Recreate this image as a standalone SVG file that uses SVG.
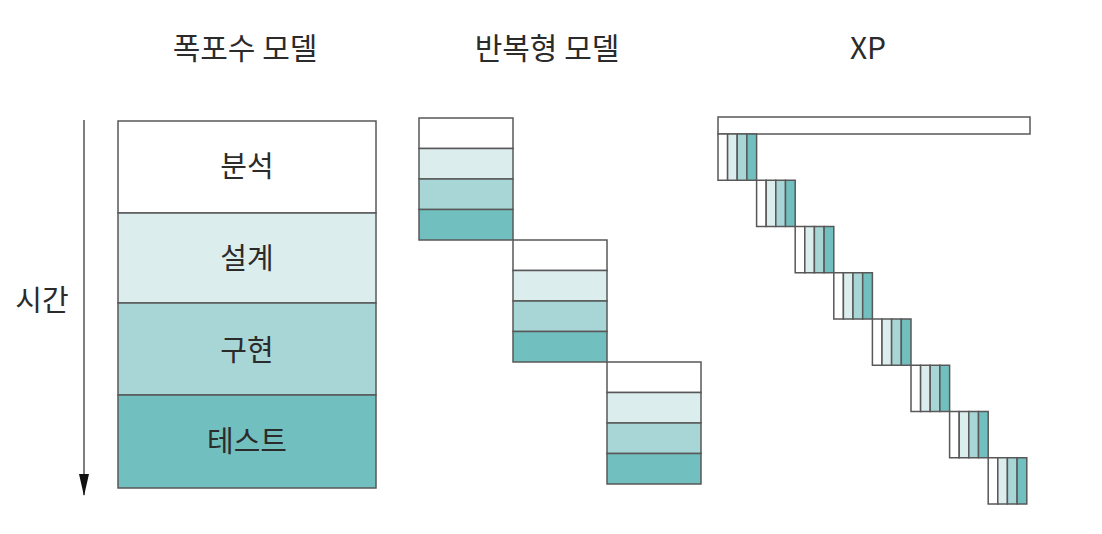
<svg xmlns="http://www.w3.org/2000/svg" width="1102" height="534" viewBox="0 0 1102 534">
<style>
  .b{stroke:#585858;stroke-width:1.5}
  .w{fill:#ffffff}
  .l{fill:#dcedee}
  .m{fill:#a8d5d6}
  .d{fill:#72bfc0}
  .t{font-family:"Noto Sans CJK KR","Noto Sans",sans-serif;fill:#2b2b2b;text-anchor:middle}
  .h{font-size:30px;font-weight:400}
  .s{font-size:29px;font-weight:400}
</style>
<defs>
  <marker id="ah" markerWidth="22" markerHeight="10" refX="21" refY="5" orient="auto" markerUnits="userSpaceOnUse">
    <path d="M0,0 L22,5 L0,10 Z" fill="#111"/>
  </marker>
  <g id="xpb">
    <rect class="b w" x="0" y="0" width="9.6" height="46.25"/>
    <rect class="b l" x="9.6" y="0" width="9.6" height="46.25"/>
    <rect class="b m" x="19.2" y="0" width="9.7" height="46.25"/>
    <rect class="b d" x="28.9" y="0" width="9.7" height="46.25"/>
  </g>
  <g id="itb">
    <rect class="b w" x="0" y="0" width="94" height="30.5"/>
    <rect class="b l" x="0" y="30.5" width="94" height="30.5"/>
    <rect class="b m" x="0" y="61" width="94" height="30.5"/>
    <rect class="b d" x="0" y="91.5" width="94" height="30.5"/>
  </g>
</defs>

<g id="titles">
  <text class="t h" x="245" y="59">폭포수 모델</text>
  <text class="t h" x="547" y="59">반복형 모델</text>
  <text class="t h" x="868" y="59">XP</text>
</g>

<g id="connectors">
  <line x1="84" y1="120" x2="84" y2="495" stroke="#555" stroke-width="1.5" marker-end="url(#ah)"/>
</g>
<g id="time-label">
  <text class="t s" x="42" y="311">시간</text>
</g>

<g id="waterfall">
  <g id="wf-analysis">
    <rect class="b w" x="118" y="121" width="258" height="92"/>
    <text class="t s" x="247" y="177">분석</text>
  </g>
  <g id="wf-design">
    <rect class="b l" x="118" y="213" width="258" height="90"/>
    <text class="t s" x="247" y="269">설계</text>
  </g>
  <g id="wf-impl">
    <rect class="b m" x="118" y="303" width="258" height="92"/>
    <text class="t s" x="247" y="361">구현</text>
  </g>
  <g id="wf-test">
    <rect class="b d" x="118" y="395" width="258" height="93"/>
    <text class="t s" x="247" y="452">테스트</text>
  </g>
</g>

<g id="iterative">
  <use id="it1" href="#itb" x="419" y="118"/>
  <use id="it2" href="#itb" x="513" y="240"/>
  <use id="it3" href="#itb" x="607" y="362"/>
</g>

<g id="xp">
  <rect id="xp-bar" class="b w" x="718" y="117" width="312" height="17"/>
  <use id="xp1" href="#xpb" x="718" y="134"/>
  <use id="xp2" href="#xpb" x="756.6" y="180.25"/>
  <use id="xp3" href="#xpb" x="795.2" y="226.5"/>
  <use id="xp4" href="#xpb" x="833.8" y="272.75"/>
  <use id="xp5" href="#xpb" x="872.4" y="319"/>
  <use id="xp6" href="#xpb" x="911" y="365.25"/>
  <use id="xp7" href="#xpb" x="949.6" y="411.5"/>
  <use id="xp8" href="#xpb" x="988.2" y="457.75"/>
</g>
</svg>
